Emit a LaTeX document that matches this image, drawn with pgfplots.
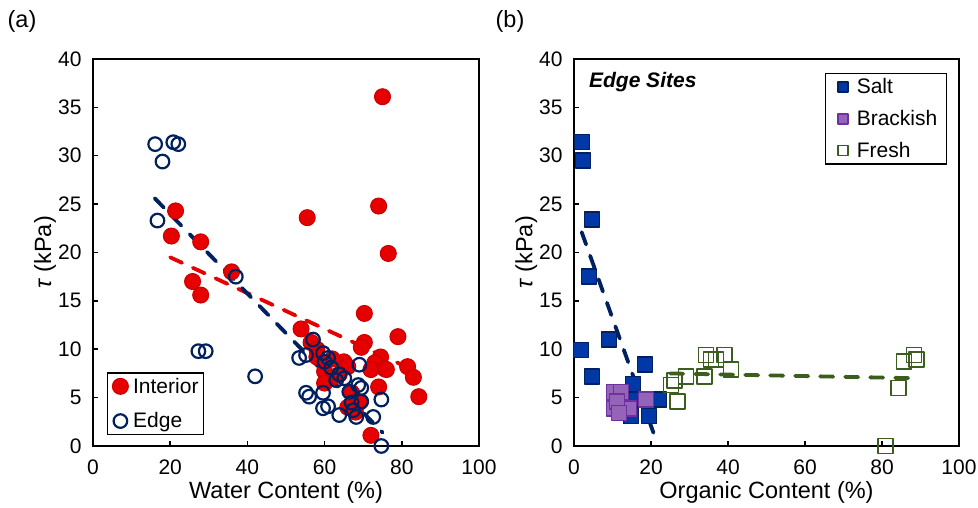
\documentclass[border=0pt]{standalone}
\usepackage{fontspec}
\setmainfont{Liberation Sans}
\usepackage{pgfplots}
\pgfplotsset{compat=1.18}
\definecolor{intred}{HTML}{E60000}
\definecolor{intredd}{HTML}{C80000}
\definecolor{navy}{HTML}{002060}
\definecolor{saltblue}{HTML}{0038A8}
\definecolor{brackish}{HTML}{7030A0}
\definecolor{fresh}{HTML}{3B5E1F}
\newcommand\ff{\fontsize{21}{25}\selectfont}
\newcommand\fb{\fontsize{23.5}{28}\selectfont}

\pgfplotsset{
  panel/.style={
    scale only axis, width=386pt, height=387pt,
    xmin=0, xmax=100, ymin=0, ymax=40,
    xtick={0,20,...,100}, ytick={0,5,...,40},
    tick align=inside, xtick pos=bottom, ytick pos=left,
    major tick length=5pt,
    axis line style={line width=2pt},
    every tick/.style={black, line width=1.5pt},
    tick label style={font=\ff},
    xticklabel style={yshift=-10pt},
    yticklabel style={xshift=-8pt},
    /pgf/number format/assume math mode=true,
    label style={font=\fb},
    xlabel style={at={(axis description cs:0.5,-0.119)}, anchor=center},
    ylabel style={at={(axis description cs:-0.124,0.5)}, anchor=center},
    ylabel={\textit{τ} (kPa)},
    clip=false,
    legend cell align=left,
    legend style={font=\ff, draw=black, line width=1.5pt, inner sep=3pt, row sep=14pt},
  },
  trend/.style={forget plot, line width=3.8pt, line cap=round, dash pattern=on 13pt off 12pt},
  limA/.style={legend image code/.code={\path (0pt,-1pt) (19pt,1pt);
    \draw[mark repeat=2, mark phase=2, ##1] plot coordinates {(0pt,0pt) (9pt,0pt) (19pt,0pt)};}},
  limB/.style={legend image code/.code={\path (0pt,-1pt) (21pt,1pt);
    \draw[mark repeat=2, mark phase=2, ##1] plot coordinates {(0pt,0pt) (10pt,0pt) (21pt,0pt)};}},
}

\begin{document}
\begin{tikzpicture}
\path[use as bounding box] (0,0) rectangle (978pt,508pt);
\node[font=\fb] at (22pt,487pt) {(a)};
\node[font=\fb] at (510pt,487pt) {(b)};

\begin{axis}[panel, at={(93pt,62pt)}, anchor=south west,
  xlabel={Water Content (\%)},
  legend style={at={(0.036,0.028)}, anchor=south west}]
\addplot[only marks, limA, mark=*, mark size=8pt, mark options={fill=intred, draw=intredd, line width=1pt}]
coordinates {(21.4,24.3)(20.3,21.7)(27.9,21.1)(25.8,17.0)(27.9,15.6)(35.9,18.0)(75,36.1)(74,24.8)
(55.5,23.6)(76.5,19.9)(70.3,13.7)(79,11.3)(53.9,12.1)(56.5,10.7)(58,10.0)(70.3,10.7)(69.5,10.2)
(74.5,9.2)(73,8.6)(75.5,8.0)(65,8.7)(66,8.2)(60,7.7)(63.8,7.4)(61.7,7.0)(58,9.2)(74,6.1)(67.7,4.0)
(66,4.0)(68,3.5)(67,5.5)(72,1.1)(81.5,8.2)(83,7.1)(84.4,5.1)(72,7.9)(76,7.9)(62,9.0)(60,6.5)(69,4.5)};
\addplot[only marks, limA, mark=o, mark size=6.8pt, mark options={draw=navy, line width=2.2pt}]
coordinates {(16.1,31.2)(20.8,31.4)(22.1,31.2)(18,29.4)(16.7,23.3)(27.3,9.8)(29.2,9.8)(42,7.2)
(37,17.5)(57,11.0)(53.4,9.1)(55.2,9.4)(59.6,9.6)(60.9,9.1)(60,8.7)(61.7,8.1)(63.8,7.4)(69,8.4)
(65.1,7.0)(68.7,6.3)(69.5,6.0)(55.2,5.5)(56,5.1)(59.6,5.5)(60.9,4.1)(59.6,3.9)(63.8,3.2)(67.4,3.7)
(68.2,3.0)(69.5,4.6)(74.7,4.8)(72.6,3.0)(74.7,0)(66.4,5.6)(63,6.8)(67,4.5)};
\addplot[trend, intred] coordinates {(20,19.5) (80,8.4)};
\addplot[trend, navy] coordinates {(16,25.6) (75,1.4)};
\legend{Interior, Edge}
\end{axis}

\begin{axis}[panel, at={(574pt,62pt)}, anchor=south west, width=385pt,
  xlabel={Organic Content (\%)},
  legend style={at={(0.969,0.964)}, anchor=north east, row sep=11pt, inner xsep=7pt},
  legend image post style={mark size=5pt}]
\addplot[only marks, limB, mark=square*, mark size=7.5pt, mark options={fill=saltblue, draw=navy, line width=1.5pt, line join=round}]
coordinates {(2.1,31.4)(2.3,29.5)(4.7,23.4)(3.9,17.5)(1.8,9.9)(4.7,7.2)(9.1,11.0)(18.4,8.4)
(15.3,6.4)(22.1,4.8)(14.8,3.1)(19.5,3.1)(15.6,4.8)};
\addplot[only marks, limB, mark=square*, mark size=7.5pt, mark options={fill=brackish!75!white, draw=brackish, line width=1.5pt, line join=round}]
coordinates {(10.4,5.6)(12.2,5.6)(10.4,3.9)(14.3,3.9)(18.7,4.8)(11.2,4.6)(11.7,3.4)};
\addplot[only marks, limB, mark=square, mark size=7.5pt, mark options={draw=fresh, line width=1.8pt, line join=round}]
coordinates {(25.2,6.3)(26,6.8)(26.8,4.6)(29.1,7.2)(33.8,7.2)(34.3,9.4)(35.6,8.9)(36.9,8.9)
(39,9.4)(40.8,7.9)(85.7,8.7)(88.3,9.4)(89,8.9)(84.2,6.0)(81,0)};
\addplot[trend, navy] coordinates {(2,22.1) (21.6,0.3)};
\addplot[trend, fresh] coordinates {(25,7.5) (89,7.0)};
\legend{Salt, Brackish, Fresh}
\node[font=\ff\bfseries\itshape, anchor=west] at (axis description cs:0.03,0.94) {Edge Sites};
\end{axis}
\end{tikzpicture}
\end{document}
